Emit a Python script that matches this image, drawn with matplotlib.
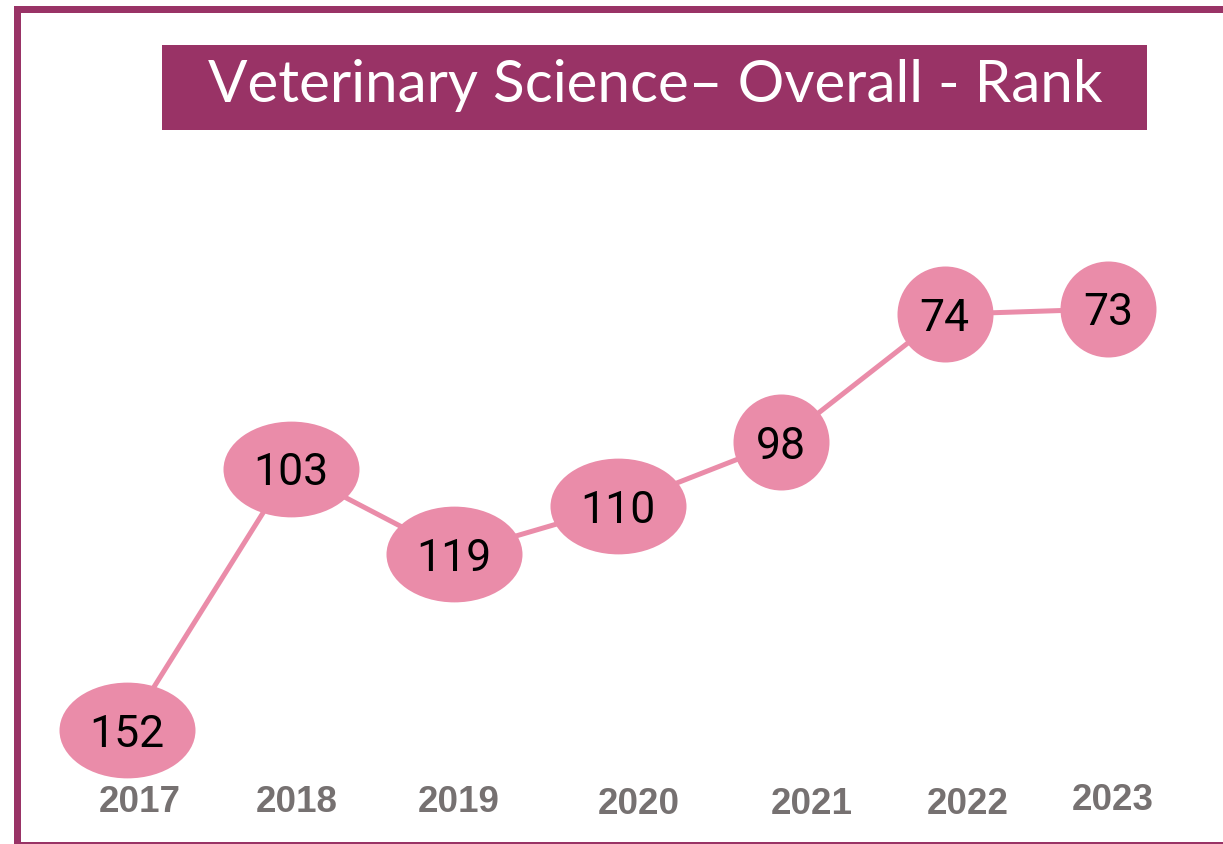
import matplotlib
matplotlib.use("Agg")
import matplotlib.pyplot as plt
from matplotlib.patches import Rectangle
from matplotlib.lines import Line2D
from matplotlib.path import Path
from matplotlib.transforms import Affine2D, blended_transform_factory, offset_copy
import numpy as np

# ---- data ----
years = ["2017", "2018", "2019", "2020", "2021", "2022", "2023"]
ranks = [152, 103, 119, 110, 98, 74, 73]
title = "Veterinary Science– Overall - Rank"

# ---- style ----
W, H, DPI = 1223, 844, 100
PURPLE = "#993366"
PINK = "#EA8CA9"
GRAY = "#767171"
# small per-label pixel offsets of the year labels (layout)
label_dx = [13, 6, 5, 21, 31, 23, 5]
label_dy = [-2, -3, -2, -4, -5, -5, -1]

fig = plt.figure(figsize=(W / DPI, H / DPI), dpi=DPI)
ax = fig.add_axes([0, 0, 1, 1])
ax.set_axis_off()

x = np.arange(len(years))
ax.set_xlim(-0.777, 6.703)
ax.set_ylim(173.39, 15.02)

ax.plot(x, ranks, color=PINK, lw=3.6, zorder=2, solid_capstyle="butt")

# ellipse marker path
circle = Path.unit_circle()
wide = Path(Affine2D().scale(1.42, 1.0).transform(circle.vertices), circle.codes)
pt = 72 / DPI
for xi, r in zip(x, ranks):
    if r >= 100:
        ax.plot([xi], [r], marker=wide, markersize=136 * pt, color=PINK,
                markeredgewidth=0, linestyle="none", zorder=3)
    else:
        ax.plot([xi], [r], marker="o", markersize=96 * pt, color=PINK,
                markeredgewidth=0, linestyle="none", zorder=3)
    ax.text(xi, r, str(r), ha="center", va="center_baseline", fontsize=32,
            family="Roboto", color="black", zorder=4)

trans = blended_transform_factory(ax.transData, ax.transAxes)
for xi, yr, dx, dy in zip(x, years, label_dx, label_dy):
    t = offset_copy(trans, fig=fig, x=dx * pt, y=dy * pt, units="points")
    ax.text(xi, 1 - 800 / H, yr, transform=t, ha="center", va="center",
            fontsize=26.5, fontweight="bold", family="Liberation Sans", color=GRAY)

# title box
fig.add_artist(Rectangle((162 / W, 1 - 130 / H), 985 / W, 85 / H,
                         transform=fig.transFigure, facecolor=PURPLE,
                         edgecolor="none", zorder=5))
fig.text(655 / W, 1 - 85 / H, title, ha="center", va="center", color="white",
         fontsize=42, family="Lato", zorder=6)

# frame
fig.add_artist(Rectangle((16.5 / W, 1 - 850 / H), 1220 / W, 841.5 / H,
                         transform=fig.transFigure, facecolor="none",
                         edgecolor=PURPLE, lw=7 * pt, zorder=7))
fig.add_artist(Line2D([16.5 / W, 1], [1.0 / H, 1.0 / H], transform=fig.transFigure,
                      color=PURPLE, lw=2 * pt, zorder=7))

fig.savefig("out.png", dpi=DPI)
